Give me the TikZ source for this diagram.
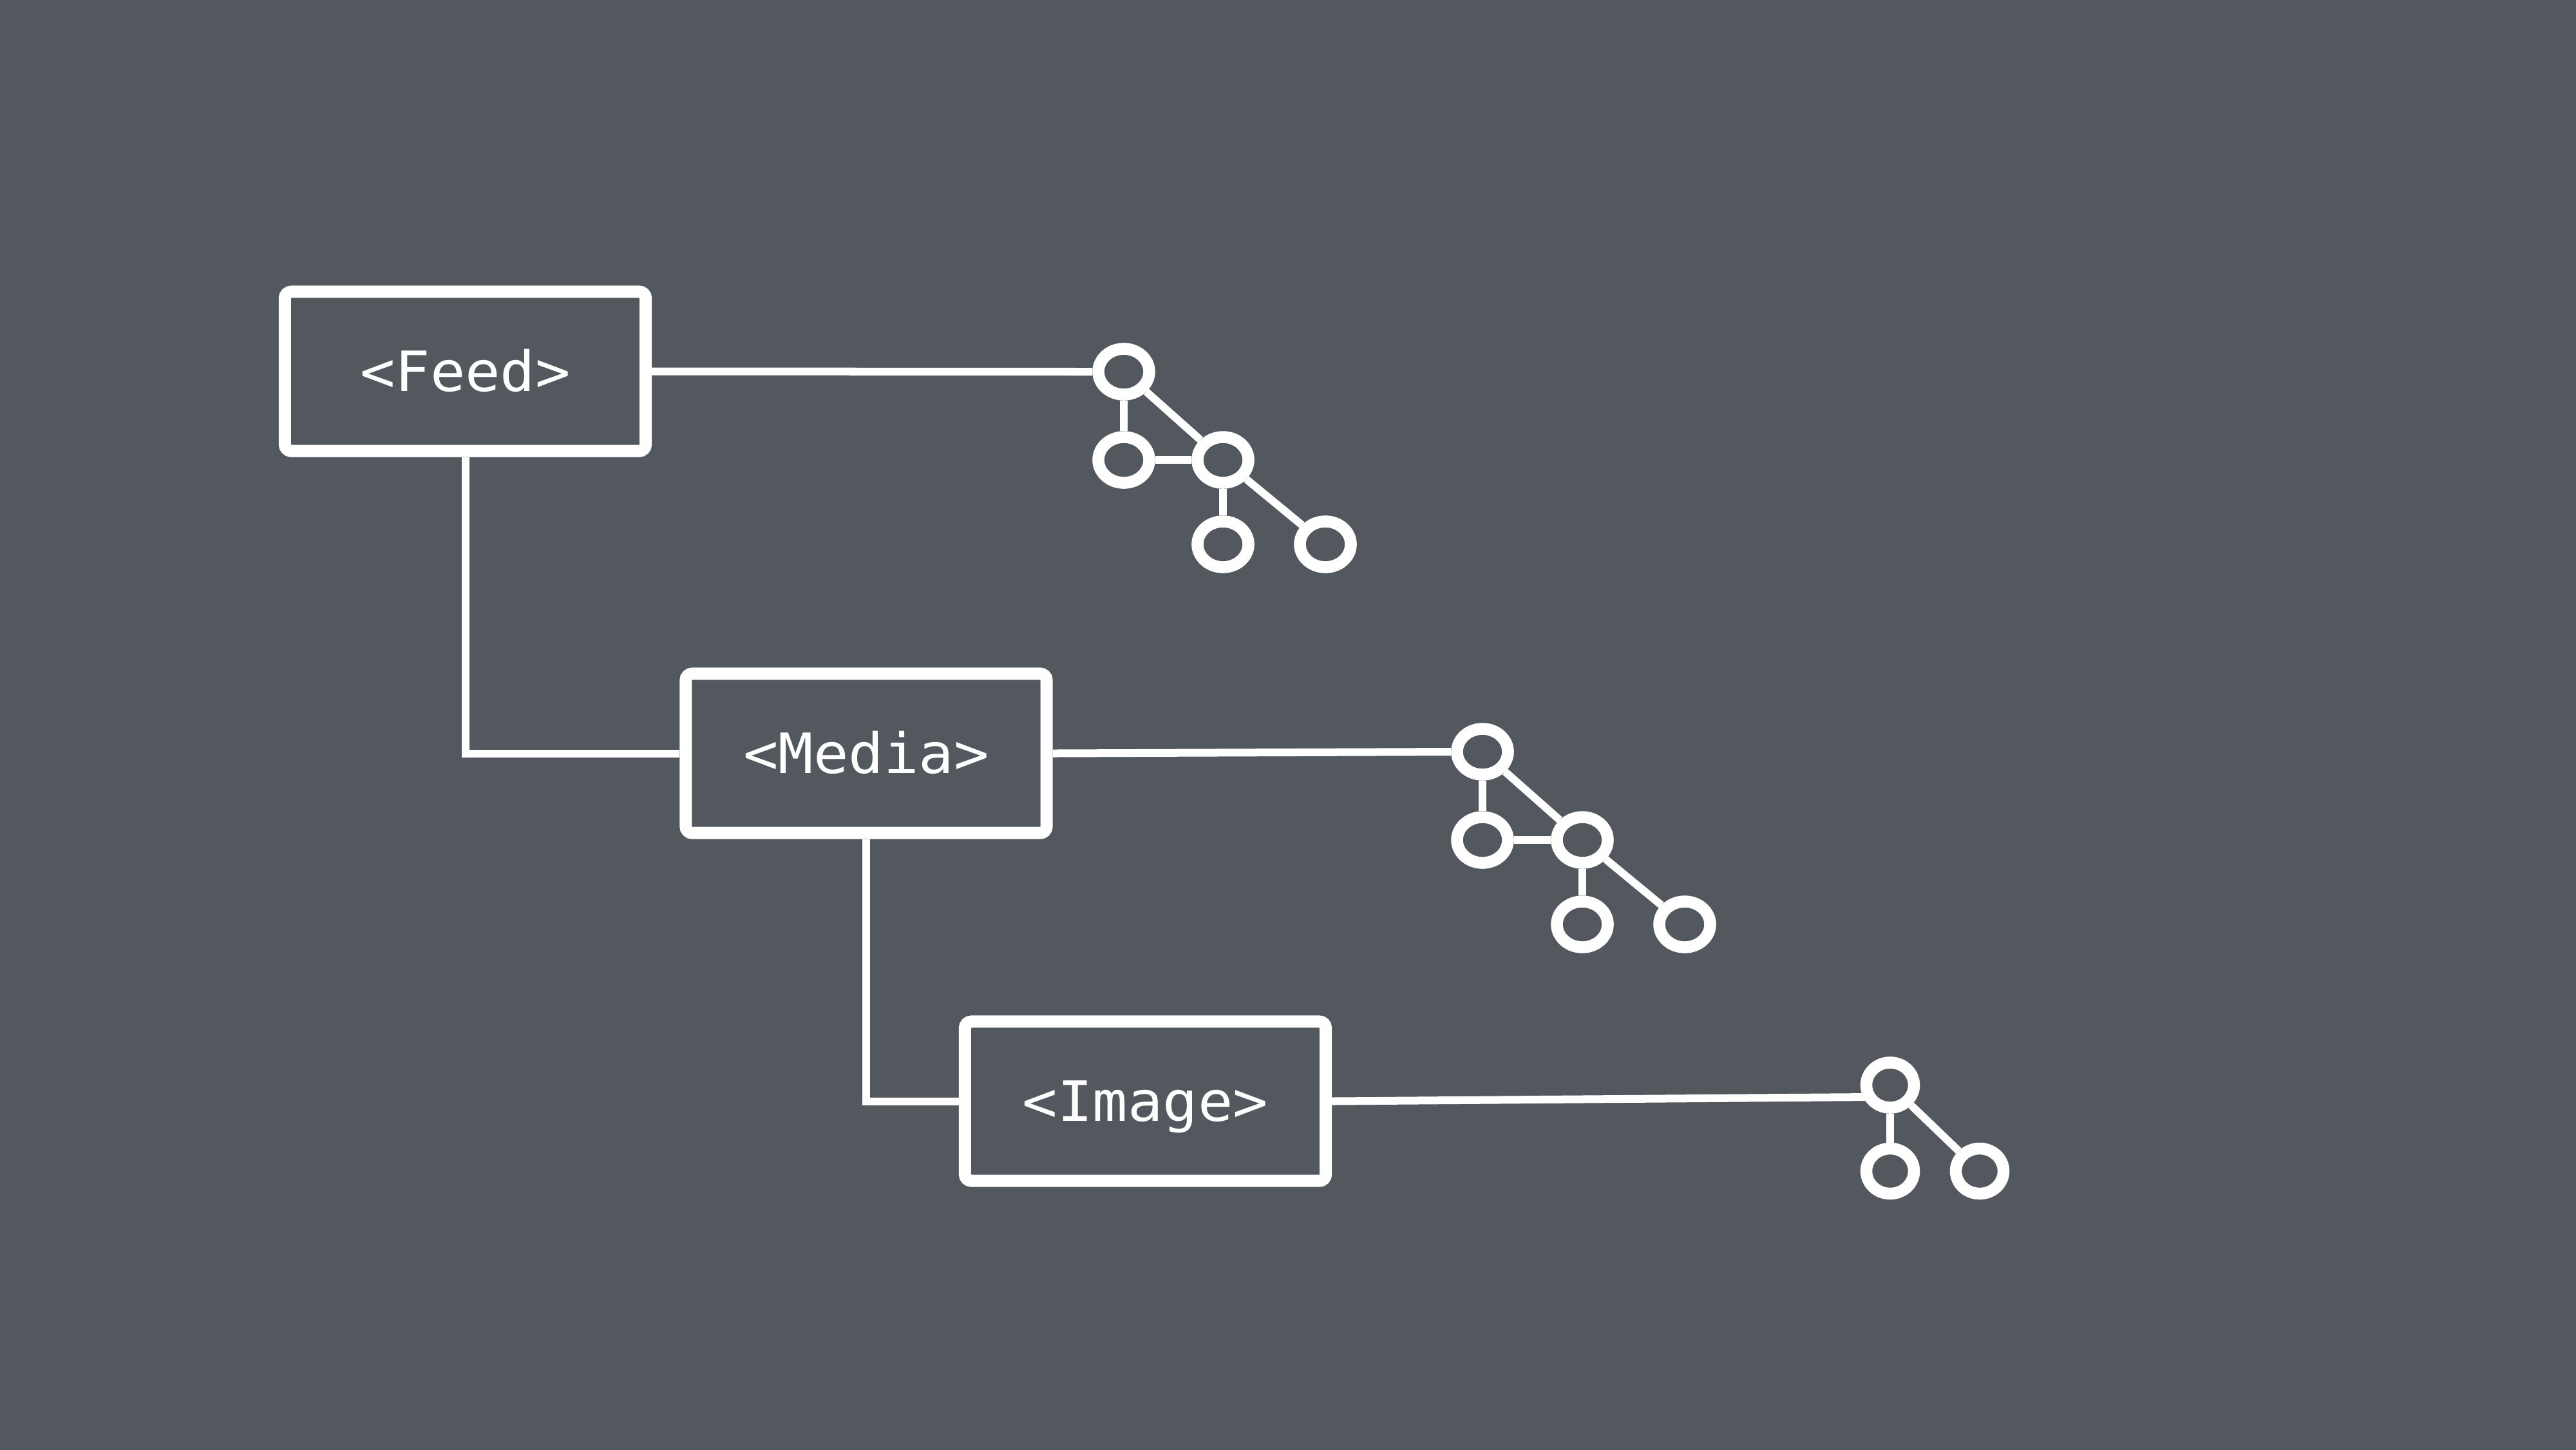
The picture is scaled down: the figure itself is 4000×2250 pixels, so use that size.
\documentclass[tikz,border=0pt]{standalone}
\usepackage{fontspec}
\newfontfamily\monofam[FakeStretch=1.05]{DejaVu Sans Mono}
\usetikzlibrary{shapes.geometric}
\definecolor{bgc}{RGB}{83,88,95}
\tikzset{
  tagbox/.style={draw=white, line width=0.19cm, rounded corners=0.1cm,
    minimum width=5.6cm, minimum height=2.47cm, inner sep=0pt,
    text=white, font=\monofam\fontsize{24.5pt}{29pt}\selectfont,
    text height=17.8pt, text depth=0pt},
  link/.style={draw=white, line width=0.12cm},
  tnode/.style={ellipse, draw=white, line width=0.185cm, inner sep=0pt,
    minimum width=0.79cm, minimum height=0.71cm},
  tnodesm/.style={tnode, minimum width=0.74cm, minimum height=0.70cm}
}
\begin{document}
\begin{tikzpicture}[x=0.01cm, y={(0cm,-0.01cm)}]
\useasboundingbox (0,0) rectangle (4000,2250);
\fill[bgc] (-20,-20) rectangle (4020,2270);

% boxes
\node[tagbox] (feed)  at (722.5,576.5)  {<Feed>};
\node[tagbox] (media) at (1345,1169.5)  {<Media>};
\node[tagbox] (img)   at (1778.5,1709.5) {<Image>};

% tree 1
\node[tnode] (t1a) at (1745,577) {};
\node[tnode] (t1b) at (1745,714) {};
\node[tnode] (t1c) at (1899,714) {};
\node[tnode] (t1d) at (1899,845) {};
\node[tnode] (t1e) at (2058,845) {};

% tree 2
\node[tnode] (t2a) at (2302,1167) {};
\node[tnode] (t2b) at (2302,1304) {};
\node[tnode] (t2c) at (2457,1304) {};
\node[tnode] (t2d) at (2457,1435) {};
\node[tnode] (t2e) at (2616,1435) {};

% tree 3
\node[tnodesm] (t3a) at (2935,1684.5) {};
\node[tnodesm] (t3b) at (2935,1818) {};
\node[tnodesm] (t3c) at (3074,1818) {};
\coordinate (t3in) at (2902,1703);

% hierarchy connectors
\draw[link] (feed.south) |- (media.west);
\draw[link] (media.south) |- (img.west);

% box to tree connectors
\draw[link] (feed.east) -- (t1a.west);
\draw[link] (media.east) -- (t2a.west);
\draw[link] (img.east) -- (t3in);

% tree edges
\draw[link] (t1a) -- (t1b);
\draw[link] (t1a) -- (t1c);
\draw[link] (t1b) -- (t1c);
\draw[link] (t1c) -- (t1d);
\draw[link] (t1c) -- (t1e);

\draw[link] (t2a) -- (t2b);
\draw[link] (t2a) -- (t2c);
\draw[link] (t2b) -- (t2c);
\draw[link] (t2c) -- (t2d);
\draw[link] (t2c) -- (t2e);

\draw[link] (t3a) -- (t3b);
\draw[link] (t3a) -- (t3c);
\end{tikzpicture}
\end{document}
